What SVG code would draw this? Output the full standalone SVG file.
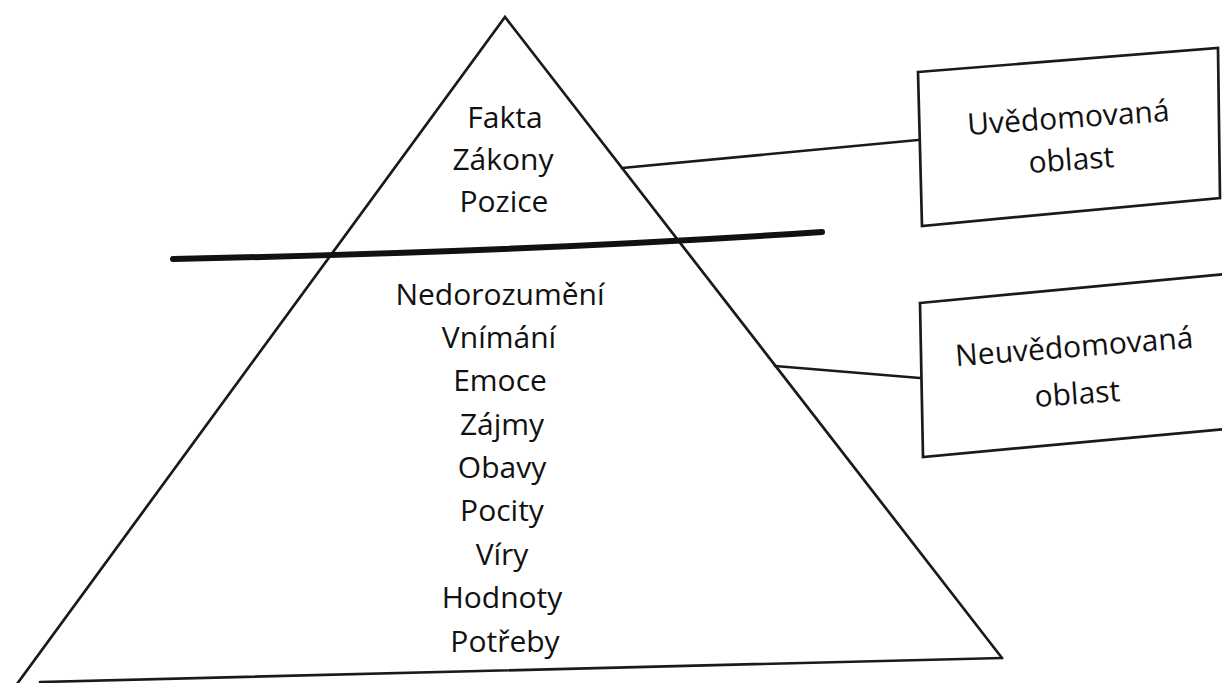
<svg xmlns="http://www.w3.org/2000/svg" width="1222" height="683" viewBox="0 0 1222 683">
<style>
.ln{fill:none;stroke:#1a1a1a;stroke-width:2.7;stroke-linejoin:miter;stroke-linecap:round}
.box{fill:#ffffff;stroke:#1a1a1a;stroke-width:2.7}
.t{font-family:"Open Sans","Noto Sans","Liberation Sans",sans-serif;font-size:30px;font-weight:500;fill:#111111;text-anchor:middle}
</style>
<rect width="1222" height="683" fill="#ffffff"/>
<g id="pyramid">
<path class="ln" d="M17,684 L505,17 L1002,658"/>
<path class="ln" d="M40,682 Q400,674 1002,658"/>
<path d="M173,259 Q520,252 822,232" fill="none" stroke="#111111" stroke-width="6" stroke-linecap="round"/>
<g class="t">
<text x="505" y="128">Fakta</text>
<text x="503" y="170">Zákony</text>
<text x="504" y="212">Pozice</text>
<text x="500" y="305">Nedorozumění</text>
<text x="499" y="348">Vnímání</text>
<text x="500" y="391">Emoce</text>
<text x="502" y="435">Zájmy</text>
<text x="502" y="478">Obavy</text>
<text x="502" y="521">Pocity</text>
<text x="502" y="565">Víry</text>
<text x="502" y="608">Hodnoty</text>
<text x="505" y="652">Potřeby</text>
</g>
</g>
<g id="connectors">
<line class="ln" x1="622" y1="168" x2="918" y2="140"/>
<line class="ln" x1="775" y1="366" x2="920" y2="378"/>
</g>
<g id="box-uvedomovana">
<polygon class="box" points="918,72 1218,48 1220,198 922,226"/>
<text class="t" transform="translate(1069,128) rotate(-4)" x="0" y="0">Uvědomovaná</text>
<text class="t" transform="translate(1072,170) rotate(-4)" x="0" y="0">oblast</text>
</g>
<g id="box-neuvedomovana">
<polygon class="box" points="920,303 1226,274 1226,429 923,457"/>
<text class="t" transform="translate(1075,357) rotate(-4.5)" x="0" y="0">Neuvědomovaná</text>
<text class="t" transform="translate(1078,404) rotate(-4)" x="0" y="0">oblast</text>
</g>
</svg>
